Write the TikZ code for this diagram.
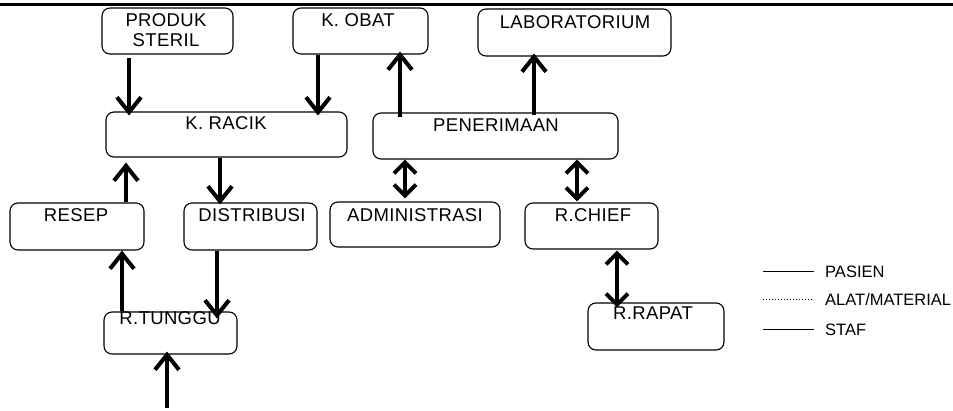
\documentclass[tikz,border=0pt]{standalone}
\usepackage{fontspec}
\setmainfont{Liberation Sans}
\newfontfamily\boxfont[LetterSpace=2]{Liberation Sans}
\usetikzlibrary{arrows.meta}
\begin{document}
\begin{tikzpicture}[x=1pt,y=-1pt,
  room/.style={draw, line width=1.1pt, rounded corners=8pt, inner sep=0pt},
  lbl/.style={anchor=base, inner sep=0pt, font=\fontsize{18.5}{20}\selectfont\boxfont},
  legtext/.style={anchor=base west, inner sep=0pt, font=\fontsize{16.5}{18}\selectfont},
  barb/.tip={Straight Barb[length=15pt,width=24pt,line width=4pt]},
  sbarb/.tip={Straight Barb[length=11pt,width=22pt,line width=4pt]},
  flow/.style={line width=4pt, -barb},
  twoway/.style={line width=4pt, sbarb-sbarb},
  legline/.style={line width=1pt}]
\useasboundingbox (0,0) rectangle (953,411);

% header rule
\draw[line width=3pt] (0,4.5) -- (953,4.5);

% rooms
\node[room, minimum width=131pt, minimum height=46pt] (steril) at (167.5,31) {};
\node[room, minimum width=135pt, minimum height=46pt] (obat) at (360.5,31) {};
\node[room, minimum width=193pt, minimum height=47pt] (lab) at (574.5,32.5) {};
\node[room, minimum width=241pt, minimum height=45pt] (racik) at (226.5,134.5) {};
\node[room, minimum width=245pt, minimum height=46pt] (pener) at (495.5,136) {};
\node[room, minimum width=134pt, minimum height=47pt] (resep) at (77,226.5) {};
\node[room, minimum width=133pt, minimum height=47pt] (distr) at (250.5,226.5) {};
\node[room, minimum width=170pt, minimum height=45pt] (admin) at (415,224.5) {};
\node[room, minimum width=133pt, minimum height=46pt] (chief) at (591.5,226) {};
\node[room, minimum width=133pt, minimum height=42pt] (tunggu) at (170.5,333) {};
\node[room, minimum width=136pt, minimum height=47pt] (rapat) at (656,326.5) {};

% room names
\node[lbl] (sterilA) at (166,27) {PRODUK};
\node[lbl] (sterilB) at (166,47) {STERIL};
\node[lbl] (obatT) at (358,27) {K. OBAT};
\node[lbl] (labT) at (575,29) {LABORATORIUM};
\node[lbl] (racikT) at (226,130) {K. RACIK};
\node[lbl] (penerT) at (496,132) {PENERIMAAN};
\node[lbl] (resepT) at (76,222) {RESEP};
\node[lbl] (distrT) at (252,222) {DISTRIBUSI};
\node[lbl] (adminT) at (415,222) {ADMINISTRASI};
\node[lbl] (chiefT) at (593,222) {R.CHIEF};
\node[lbl] (tungguT) at (170,325) {R.TUNGGU};
\node[lbl] (rapatT) at (653,320) {R.RAPAT};

% flows
\draw[flow] (129,0 |- steril.south) ++(0,3) -- ([yshift=-4pt]129,0 |- racik.north);
\draw[flow] (318,0 |- obat.south) -- ([yshift=-4pt]318,0 |- racik.north);
\draw[flow] ([yshift=-5pt]400,0 |- pener.north) -- ([yshift=3pt]400,0 |- obat.south);
\draw[flow] ([yshift=-3pt]534,0 |- pener.north) -- ([yshift=3pt]534,0 |- lab.south);
\draw[flow] (126,0 |- resep.north) -- ([yshift=-5pt]126,0 |- racik.south);
\draw[flow] (220,0 |- racik.south) -- ([yshift=-2pt]220,0 |- distr.north);
\draw[twoway] (405,0 |- pener.south) -- ([yshift=3pt]405,0 |- admin.north);
\draw[twoway] (577,0 |- pener.south) -- ([yshift=1pt]577,0 |- chief.north);
\draw[twoway] ([yshift=-1pt]617,0 |- chief.south) -- ([yshift=-5pt]617,0 |- rapat.north);
\draw[flow] (122,0 |- tunggu.north) -- (122,0 |- resep.south);
\draw[flow] (217,0 |- distr.south) -- ([yshift=-7pt]217,0 |- tunggu.north);
\coordinate (entry) at (167,408);
\draw[flow] (entry) -- ([yshift=3pt]167,0 |- tunggu.south);

% legend
\coordinate (l1a) at (763,272); \coordinate (l1b) at (814,272);
\coordinate (l2a) at (763,300); \coordinate (l2b) at (814,300);
\coordinate (l3a) at (763,330); \coordinate (l3b) at (814,330);
\draw[legline] (l1a) -- (l1b);
\draw[legline, dotted] (l2a) -- (l2b);
\draw[legline] (l3a) -- (l3b);
\node[legtext] (leg1) at (825,278) {PASIEN};
\node[legtext] (leg2) at (825,306) {ALAT/MATERIAL};
\node[legtext] (leg3) at (825,336) {STAF};
\end{tikzpicture}
\end{document}
